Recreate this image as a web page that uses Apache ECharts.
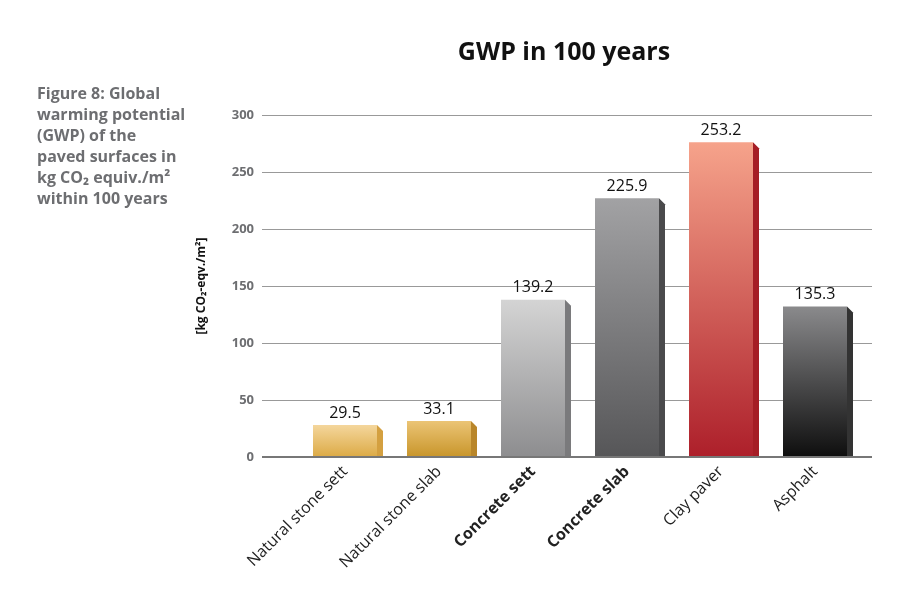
<!DOCTYPE html>
<html><head><meta charset="utf-8">
<script src="https://cdn.jsdelivr.net/npm/echarts@6/dist/echarts.min.js"></script>
<style>html,body{margin:0;padding:0;background:#fff}#c{width:907px;height:604px}</style>
</head><body><div id="c"></div>
<script>
const categories=['Natural stone sett','Natural stone slab','Concrete sett','Concrete slab','Clay paver','Asphalt'];
const barHeights=[28,31.5,138,227,276,132];
const valueLabels=['29.5','33.1','139.2','225.9','253.2','135.3'];
const yTicks=[0,50,100,150,200,250,300];
const colorsTop=['#f4d69c','#ebc475','#d4d4d4','#a2a2a4','#f6a38b','#8a8a8c'];
const colorsBot=['#dcaa45','#c8952a','#8d8d8f','#565658','#ad1f2a','#0e0e0e'];
const sideCol=['#d4a040','#b9862a','#7a7a7c','#4a4a4c','#a51d25','#333'];
const boldCat=[false,false,true,true,false,false];

const chart=echarts.init(document.getElementById('c'));
chart.setOption({
 animation:false,
 title:{text:'GWP in 100 years',left:559,top:35,textAlign:'center',textStyle:{fontFamily:'Open Sans',fontWeight:'bold',fontSize:25,color:'#111'}},
 graphic:[{type:'text',left:37,top:84,style:{text:'Figure 8: Global\nwarming potential\n(GWP) of the\npaved surfaces in\nkg CO₂ equiv./m²\nwithin 100 years',font:'bold 16px "Open Sans"',fill:'#6d6e71',lineHeight:21}}],
 grid:[{left:262,right:35,top:115,bottom:147},{left:298,right:45,top:115,bottom:147}],
 xAxis:[
  {gridIndex:0,type:'category',data:categories,show:false},
  {gridIndex:1,type:'category',data:categories,axisLine:{show:false},axisTick:{show:false},
   axisLabel:{interval:0,rotate:45,fontFamily:'Open Sans',fontSize:16,color:'#222',margin:12,
     formatter:(v,i)=>boldCat[i]?'{b|'+v+'}':v,rich:{b:{fontWeight:'bold',fontFamily:'Open Sans',fontSize:16,color:'#222'}}}}
 ],
 yAxis:[
  {gridIndex:0,type:'value',min:0,max:300,interval:50,
   axisLabel:{fontFamily:'Open Sans',fontWeight:'bold',fontSize:13,color:'#6d6e71',margin:8},
   axisLine:{show:false},axisTick:{show:false},
   splitLine:{lineStyle:{color:'#999',width:1}},
   name:'[kg CO₂-eqv./m²]',nameLocation:'middle',nameGap:54,nameRotate:90,
   nameTextStyle:{fontFamily:'Open Sans',fontWeight:'bold',fontSize:12,color:'#111'}},
  {gridIndex:1,type:'value',min:0,max:300,interval:50,show:false}
 ],
 series:[
  {type:'line',xAxisIndex:0,yAxisIndex:0,data:[],silent:true,
   markLine:{symbol:'none',silent:true,label:{show:false},lineStyle:{color:'#777',width:2,type:'solid'},data:[{yAxis:0}]}},
  {type:'custom',xAxisIndex:1,yAxisIndex:1,data:barHeights.map((v,i)=>[i,v]),
   renderItem:(params,api)=>{
     const i=api.value(0),v=api.value(1);
     const top=api.coord([i,v]),bot=api.coord([i,0]);
     const w=64,d=6;
     const x0=top[0]-w/2;
     return {type:'group',children:[
      {type:'polygon',shape:{points:[[x0+w,top[1]],[x0+w+d,top[1]+d],[x0+w+d,bot[1]],[x0+w,bot[1]]]},style:{fill:sideCol[i]}},
      {type:'rect',shape:{x:x0,y:top[1],width:w,height:bot[1]-top[1]},
       style:{fill:new echarts.graphic.LinearGradient(0,0,0,1,[{offset:0,color:colorsTop[i]},{offset:1,color:colorsBot[i]}])}},
      {type:'text',style:{text:valueLabels[i],x:top[0],y:top[1]-4,align:'center',verticalAlign:'bottom',font:'16px "Open Sans"',fill:'#111'}}
     ]};
   }}
 ]
});
</script></body></html>
